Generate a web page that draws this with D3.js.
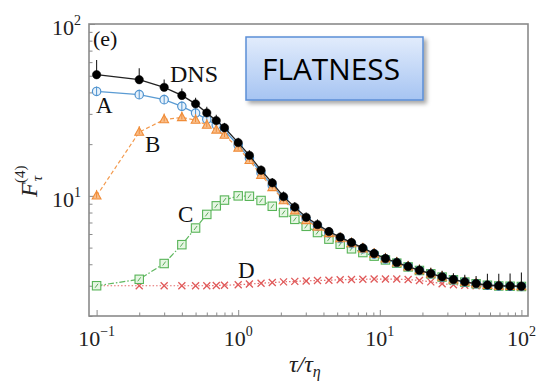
<!DOCTYPE html>
<html>
<head>
<meta charset="utf-8">
<script src="https://cdn.jsdelivr.net/npm/d3@7"></script>
<style>
  html, body { margin: 0; padding: 0; background: #fff; }
  svg { display: block; }
</style>
</head>
<body>
<svg id="chart" width="544" height="381"></svg>
<script>
// Time lags tau / tau_eta
const tau = [0.1, 0.2, 0.3, 0.4, 0.5, 0.6, 0.7, 0.8, 1.0, 1.2, 1.45, 1.74, 2.09, 2.51, 3.02, 3.63,
  4.37, 5.25, 6.31, 7.59, 9.12, 10.96, 13.18, 15.85, 19.05, 22.91, 27.54, 33.11, 39.81, 47.86,
  57.54, 69.18, 83.18, 100];

// Flatness F_tau^(4) for each curve
const dns = [50.7, 47.4, 42.8, 38.4, 34.3, 30.4, 27.4, 24.9, 20.4, 17.2, 14.1, 11.9, 9.9, 8.6, 7.5, 6.8,
  6.2, 5.75, 5.35, 4.98, 4.62, 4.32, 4.1, 3.88, 3.69, 3.53, 3.38, 3.26, 3.16, 3.09,
  3.03, 3.0, 2.99, 2.98];
const dnsUpper = [61.7, 55.2, 47.5, 42.2, 37.2, 33.0, 29.6, 26.6, 21.8, 18.4, 15.0, 12.7, 10.6, 9.2, 8.0, 7.3,
  6.6, 6.1, 5.7, 5.3, 4.93, 4.62, 4.4, 4.17, 3.97, 3.82, 3.67, 3.55, 3.47, 3.42,
  3.52, 3.52, 3.53, 3.58];
const seriesA = [40.5, 38.8, 36.3, 33.2, 30.3, 27.9, 25.8, 24.0, 19.7, 16.6, 13.6, 11.5, 9.6, 8.35, 7.3, 6.65,
  6.08, 5.65, 5.27, 4.92, 4.58, 4.29, 4.08, 3.87, 3.68, 3.52, 3.37, 3.25, 3.15, 3.08,
  3.02, 2.99, 2.98, 2.97];
const seriesB = [10.0, 23.5, 27.8, 28.6, 27.6, 25.8, 24.2, 22.6, 19.0, 16.1, 13.2, 11.2, 9.4, 8.2, 7.2, 6.6,
  6.05, 5.65, 5.28, 4.93, 4.59, 4.3, 4.08, 3.87, 3.68, 3.52, 3.37, 3.25, 3.15, 3.08,
  3.02, 2.99, 2.98, 2.97];
const seriesC = [3.0, 3.27, 4.04, 5.2, 6.5, 7.8, 8.75, 9.45, 10.0, 9.95, 9.4, 8.7, 8.0, 7.3, 6.65, 6.12,
  5.6, 5.23, 4.92, 4.68, 4.46, 4.24, 4.06, 3.86, 3.68, 3.52, 3.37, 3.25, 3.15, 3.08,
  3.02, 2.99, 2.98, 2.97];
const seriesD = [3.0, 3.0, 3.0, 3.0, 3.0, 3.0, 3.01, 3.02, 3.04, 3.07, 3.1, 3.13, 3.16, 3.18, 3.2, 3.22,
  3.23, 3.25, 3.26, 3.27, 3.28, 3.28, 3.28, 3.26, 3.22, 3.16, 3.08, 3.04, 3.02, 3.0,
  2.99, 2.98, 2.97, 2.97];

// Axis ticks (major decades with exponent labels)
const xMajor = [0.1, 1, 10, 100];
const xExp = ["\u22121", "0", "1", "2"];
const yMajor = [10, 100];
const yExp = ["1", "2"];

// Curve annotations
const curveLabels = ["(e)", "DNS", "A", "B", "C", "D"];
const boxTitle = "FLATNESS";

const svg = d3.select("#chart");
const plotL = 89, plotR = 528, plotT = 24, plotB = 316;

const x = d3.scaleLog().domain([0.08838, 111.3]).range([plotL, plotR]);
const y = d3.scaleLog().domain([2, 100]).range([plotB, plotT]);

const serif = "'Liberation Serif', 'Times New Roman', serif";
const frameColor = "#8a8a8a";

// Frame
svg.append("rect")
  .attr("x", plotL).attr("y", plotT)
  .attr("width", plotR - plotL).attr("height", plotB - plotT)
  .attr("fill", "none").attr("stroke", frameColor).attr("stroke-width", 1.6);

// Minor/major ticks (inward) on the bottom and left axes
const xMinor = [];
[0.1, 1, 10].forEach(d => { for (let k = 2; k <= 9; k++) xMinor.push(d * k); });
const yMinor = [];
[1, 10].forEach(d => { for (let k = 2; k <= 9; k++) { const v = d * k; if (v >= 2) yMinor.push(v); } });

const xAxis = d3.axisBottom(x).tickValues(xMinor.concat(xMajor)).tickFormat("")
  .tickSizeInner(0).tickSizeOuter(0);
const gx = svg.append("g").attr("transform", `translate(0,${plotB})`).call(xAxis);
gx.select(".domain").remove();
gx.selectAll(".tick line")
  .attr("y2", d => xMajor.includes(d) ? -6 : -3.5)
  .attr("stroke", frameColor).attr("stroke-width", 1);

const yAxis = d3.axisLeft(y).tickValues(yMinor.concat(yMajor)).tickFormat("")
  .tickSizeInner(0).tickSizeOuter(0);
const gy = svg.append("g").attr("transform", `translate(${plotL},0)`).call(yAxis);
gy.select(".domain").remove();
gy.selectAll(".tick line")
  .attr("x2", d => yMajor.includes(d) ? 6 : 3.5)
  .attr("stroke", frameColor).attr("stroke-width", 1);

// Decade labels
xMajor.forEach((v, i) => {
  const t = svg.append("text")
    .attr("x", x(v)).attr("y", plotB + 30)
    .attr("text-anchor", "middle")
    .attr("font-family", serif).attr("font-size", 22).attr("fill", "#222");
  t.append("tspan").text("10");
  t.append("tspan").attr("dy", -10).attr("font-size", 14).text(xExp[i]);
});
yMajor.forEach((v, i) => {
  const t = svg.append("text")
    .attr("x", plotL - 8).attr("y", y(v) + 11)
    .attr("text-anchor", "end")
    .attr("font-family", serif).attr("font-size", 22).attr("fill", "#222");
  t.append("tspan").text("10");
  t.append("tspan").attr("dy", -10).attr("font-size", 14).text(yExp[i]);
});

// Axis titles
const xt = svg.append("text")
  .attr("x", 289).attr("y", 372)
  .attr("font-family", serif).attr("font-size", 24).attr("font-style", "italic").attr("fill", "#222");
xt.append("tspan").text("\u03c4/\u03c4");
xt.append("tspan").attr("dy", 5).attr("font-size", 16).text("\u03b7");

const yt = svg.append("text")
  .attr("transform", "translate(37,197) rotate(-90)")
  .attr("font-family", serif).attr("font-size", 24).attr("fill", "#222");
yt.append("tspan").attr("font-style", "italic").text("F");
yt.append("tspan").attr("dx", 1).attr("dy", 5).attr("font-size", 15).attr("font-style", "italic").text("\u03c4");
yt.append("tspan").attr("dx", -7).attr("dy", -17).attr("font-size", 15).text("(4)");

// Series drawing
const pts = vals => tau.map((t, i) => [t, vals[i]]);
const line = d3.line().x(d => x(d[0])).y(d => y(d[1]));

const plot = svg.append("g");

function drawLine(vals, color, dash, width) {
  plot.append("path").datum(pts(vals))
    .attr("d", line).attr("fill", "none")
    .attr("stroke", color).attr("stroke-width", width)
    .attr("stroke-dasharray", dash);
}

// D: red crosses, dotted
drawLine(seriesD, "#e46a6a", "1.5,2", 1.2);
plot.selectAll(".mD").data(pts(seriesD)).join("path")
  .attr("transform", d => `translate(${x(d[0])},${y(d[1])})`)
  .attr("d", "M-3.5,-3.5L3.5,3.5M-3.5,3.5L3.5,-3.5")
  .attr("stroke", "#e05a5a").attr("stroke-width", 1.3).attr("fill", "none");

// C: green squares, dash-dot
drawLine(seriesC, "#5fb85f", "6,2,1.5,2", 1.2);
plot.selectAll(".mC").data(pts(seriesC)).join("rect")
  .attr("x", d => x(d[0]) - 4.2).attr("y", d => y(d[1]) - 4.2)
  .attr("width", 8.4).attr("height", 8.4)
  .attr("fill", "#e6f6e3").attr("stroke", "#58b458").attr("stroke-width", 1.1);
plot.selectAll(".eC").data(pts(seriesC)).join("line")
  .attr("x1", d => x(d[0]) - 1.5).attr("x2", d => x(d[0]) + 1.5)
  .attr("y1", d => y(d[1]) + 2).attr("y2", d => y(d[1]) - 2)
  .attr("stroke", "#4aa04a").attr("stroke-width", 0.9);

// A: blue open circles, solid
drawLine(seriesA, "#5a9bd3", null, 1.3);
plot.selectAll(".mA").data(pts(seriesA)).join("circle")
  .attr("cx", d => x(d[0])).attr("cy", d => y(d[1])).attr("r", 4.2)
  .attr("fill", "#e8f2fb").attr("stroke", "#4f93cf").attr("stroke-width", 1.2);
plot.selectAll(".eA").data(pts(seriesA)).join("line")
  .attr("x1", d => x(d[0])).attr("x2", d => x(d[0]))
  .attr("y1", d => y(d[1]) + 4).attr("y2", d => y(d[1]) - 5)
  .attr("stroke", "#4f93cf").attr("stroke-width", 1);

// B: orange triangles, dashed
drawLine(seriesB, "#f39a4e", "4,2.5", 1.2);
plot.selectAll(".mB").data(pts(seriesB)).join("path")
  .attr("transform", d => `translate(${x(d[0])},${y(d[1])})`)
  .attr("d", "M0,-4.8L4.4,3.2L-4.4,3.2Z")
  .attr("fill", "#f9bf8c").attr("stroke", "#f08c38").attr("stroke-width", 1.1);
plot.selectAll(".eB").data(pts(seriesB)).join("line")
  .attr("x1", d => x(d[0])).attr("x2", d => x(d[0]))
  .attr("y1", d => y(d[1]) + 2).attr("y2", d => y(d[1]) - 6)
  .attr("stroke", "#f08c38").attr("stroke-width", 1);

// DNS: black filled circles with upward error bars, solid
drawLine(dns, "#222", null, 1.3);
plot.selectAll(".eDNS").data(tau.map((t, i) => [t, dns[i], dnsUpper[i]])).join("line")
  .attr("x1", d => x(d[0])).attr("x2", d => x(d[0]))
  .attr("y1", d => y(d[1])).attr("y2", d => y(d[2]))
  .attr("stroke", "#222").attr("stroke-width", 1.1);
plot.selectAll(".mDNS").data(pts(dns)).join("circle")
  .attr("cx", d => x(d[0])).attr("cy", d => y(d[1])).attr("r", 4.2)
  .attr("fill", "#000").attr("stroke", "#000").attr("stroke-width", 0.5);

// Curve annotations
const labelPos = [[93, 46, 22], [170, 82, 24], [96, 113, 23], [145, 152, 23], [178, 222, 23], [238, 278, 23]];
curveLabels.forEach((s, i) => {
  svg.append("text").attr("x", labelPos[i][0]).attr("y", labelPos[i][1])
    .attr("font-family", serif).attr("font-size", labelPos[i][2]).attr("fill", "#111").text(s);
});

// Title box with gradient and shadow
const defs = svg.append("defs");
const grad = defs.append("linearGradient").attr("id", "boxGrad")
  .attr("x1", 0).attr("y1", 0).attr("x2", 0).attr("y2", 1);
grad.append("stop").attr("offset", "0%").attr("stop-color", "#e2ecfc");
grad.append("stop").attr("offset", "100%").attr("stop-color", "#a6c4f2");
const filt = defs.append("filter").attr("id", "boxShadow")
  .attr("x", "-10%").attr("y", "-10%").attr("width", "130%").attr("height", "140%");
filt.append("feDropShadow").attr("dx", 3).attr("dy", 3).attr("stdDeviation", 2)
  .attr("flood-color", "#000").attr("flood-opacity", 0.35);

svg.append("rect")
  .attr("x", 246).attr("y", 37).attr("width", 177).attr("height", 63)
  .attr("fill", "url(#boxGrad)").attr("stroke", "#5b8ed6").attr("stroke-width", 1.5)
  .attr("filter", "url(#boxShadow)");
svg.append("text")
  .attr("x", 262).attr("y", 80)
  .attr("font-family", "'Open Sans', 'Liberation Sans', sans-serif").attr("font-size", 30)
  .attr("textLength", 138).attr("lengthAdjust", "spacingAndGlyphs")
  .attr("fill", "#000").text(boxTitle);
</script>
</body>
</html>
